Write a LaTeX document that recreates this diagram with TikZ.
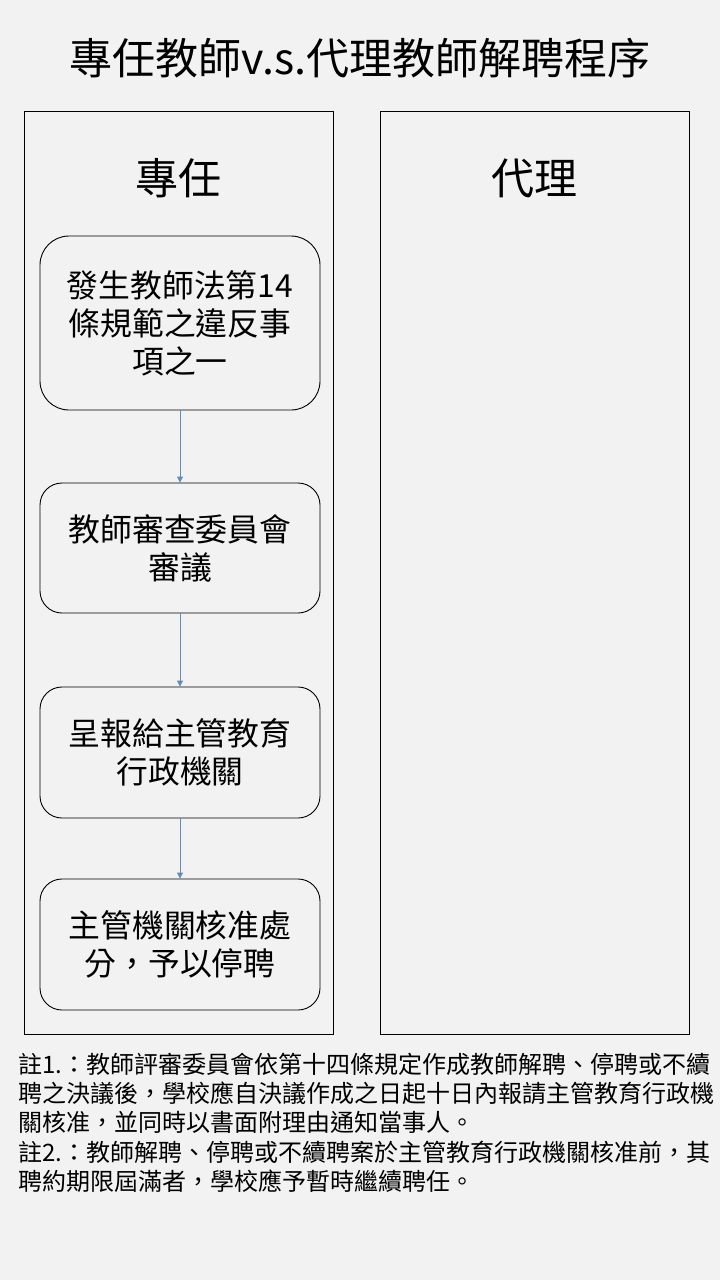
\documentclass[tikz,border=0pt]{standalone}
\usepackage{fontspec}
\setmainfont{Noto Sans CJK TC}
\usetikzlibrary{arrows.meta}
\definecolor{pagebg}{RGB}{242,242,242}
\definecolor{flowline}{RGB}{95,140,185}
\begin{document}
\begin{tikzpicture}[x=1pt,y=-1pt,
  panel/.style={draw=black,line width=0.9pt,minimum width=309pt,minimum height=923pt,inner sep=0pt},
  heading/.style={font=\fontsize{43}{50}\selectfont},
  stepbox/.style={draw=black,line width=0.9pt,fill=pagebg,rounded corners=#1,
    minimum width=280pt,inner sep=0pt,align=center,font=\fontsize{31.8}{38}\selectfont},
  flow/.style={draw=flowline,line width=0.9pt,-{Triangle[length=6pt,width=6pt]}},
  note/.style={anchor=north west,inner sep=0pt,align=left,font=\fontsize{24}{29.2}\selectfont}]
  % page
  \fill[pagebg] (0,0) rectangle (720,1280);
  \useasboundingbox (0,0) rectangle (720,1280);
  % title
  \node[font=\fontsize{43}{50}\selectfont] (title) at (360,58) {專任教師v.s.代理教師解聘程序};
  % two columns
  \node[panel] (left) at (178.5,572.5) {};
  \node[panel] (right) at (534.5,572.5) {};
  \node[heading] (lefthead) at (178,178) {專任};
  \node[heading] (righthead) at (534,178) {代理};
  % procedure steps
  \node[stepbox=29pt,minimum height=174pt] (s1) at (180,323)
    {發生教師法第14\\條規範之違反事\\項之一};
  \node[stepbox=22pt,minimum height=130pt] (s2) at (180,548)
    {教師審查委員會\\審議};
  \node[stepbox=22pt,minimum height=131pt] (s3) at (180,752.5)
    {呈報給主管教育\\行政機關};
  \node[stepbox=22pt,minimum height=131pt] (s4) at (180,944.5)
    {主管機關核准處\\分，予以停聘};
  \draw[flow] (s1) -- (s2);
  \draw[flow] (s2) -- (s3);
  \draw[flow] (s3) -- (s4);
  % notes
  \node[note] (notes) at (18,1053)
    {註1.：教師評審委員會依第十四條規定作成教師解聘、停聘或不續\\
     聘之決議後，學校應自決議作成之日起十日內報請主管教育行政機\\
     關核准，並同時以書面附理由通知當事人。\\
     註2.：教師解聘、停聘或不續聘案於主管教育行政機關核准前，其\\
     聘約期限屆滿者，學校應予暫時繼續聘任。};
\end{tikzpicture}
\end{document}
